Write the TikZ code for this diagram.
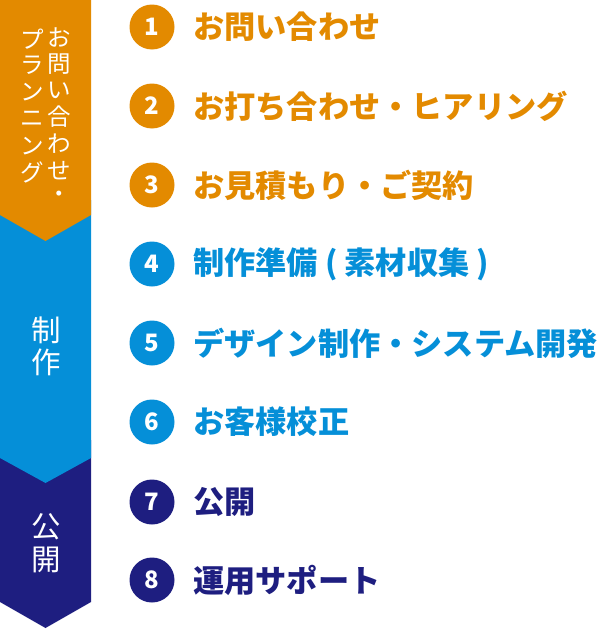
\documentclass[tikz,border=0pt]{standalone}
\usepackage{fontspec}
\newfontfamily\jp{Noto Sans CJK JP}
\definecolor{cor}{HTML}{E38A00}
\definecolor{cbl}{HTML}{058FD8}
\definecolor{cnv}{HTML}{1E1E80}
\begin{document}
\begin{tikzpicture}[x=1pt,y=-1pt,
 num/.style={circle,fill=#1,minimum size=45pt,inner sep=0pt,text=white,font=\jp\bfseries\fontsize{24}{24}\selectfont},
 item/.style={anchor=west,inner sep=0pt,text=#1,font=\jp\bfseries\fontsize{31.2}{31.2}\selectfont},
 vch/.style={text=white,inner sep=0pt,font=\jp\fontsize{23.5}{23.5}\selectfont},
 bch/.style={text=white,inner sep=0pt,font=\jp\fontsize{29.5}{29.5}\selectfont}]
\useasboundingbox (0,0) rectangle (602,629);
\fill[cnv] (0,440) -- (91,440) -- (91,602) -- (45.5,628) -- (0,602) -- cycle;
\fill[cbl] (0,200) -- (91,200) -- (91,458) -- (45.5,483) -- (0,458) -- cycle;
\fill[cor] (0,0) -- (91,0) -- (91,215) -- (45.5,241) -- (0,215) -- cycle;
\foreach \ch [count=\i from 0] in {お,問,い,合,わ,せ,・}
  \node[vch] (r\i) at (59,{37+26.7*\i}) {\ch};
\foreach \ch [count=\i from 0] in {プ,ラ,ン,ニ,ン,グ}
  \node[vch] (l\i) at (32.5,{39+26.7*\i}) {\ch};
\node[bch] (s1) at (46,330) {制};
\node[bch] (s2) at (46,362) {作};
\node[bch] (p1) at (46,527) {公};
\node[bch] (p2) at (46,560) {開};
\foreach \n/\yy/\c/\t in {1/27/cor/お問い合わせ,2/106/cor/お打ち合わせ・ヒアリング,3/185/cor/お見積もり・ご契約,4/264/cbl/制作準備 ( 素材収集 ),5/343/cbl/デザイン制作・システム開発,6/422/cbl/お客様校正,7/502/cnv/公開,8/580/cnv/運用サポート}{
  \node[num=\c] (n\n) at (152,\yy) {\n};
  \node[item=\c] (t\n) at (193,\yy) {\t};
}
\end{tikzpicture}
\end{document}
